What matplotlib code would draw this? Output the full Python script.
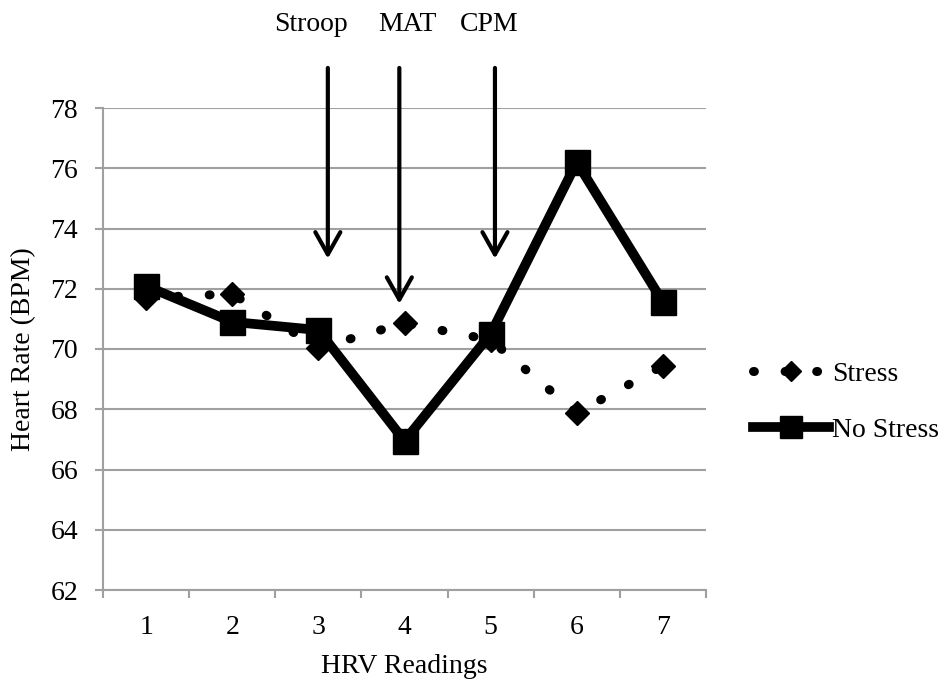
import matplotlib
matplotlib.use("Agg")
import matplotlib.pyplot as plt

# readings on the x axis
readings = [1, 2, 3, 4, 5, 6, 7]
stress = [71.7, 71.83, 70.03, 70.86, 70.3, 67.88, 69.44]
no_stress = [72.09, 70.9, 70.63, 66.95, 70.5, 76.2, 71.56]

# task markers: label, x position of arrow, arrow tip y
tasks = ["Stroop", "MAT", "CPM"]
task_x = [3.11, 3.94, 5.05]
task_tip = [73.0, 71.5, 73.0]
label_x = [2.91, 4.03, 4.98]

y_ticks = [62, 64, 66, 68, 70, 72, 74, 76, 78]

plt.rcParams['font.family'] = ['Liberation Serif', 'DejaVu Serif']
grey = '#a0a0a0'
fs = 20

fig = plt.figure(figsize=(9.41, 6.81), dpi=100)
ax = fig.add_axes([103 / 941, 1 - 590 / 681, (706 - 103) / 941, (590 - 108) / 681])

ax.set_ylim(62, 78)
ax.set_xlim(0.5, 7.5)
ax.set_yticks(y_ticks)
ax.set_xticks(readings)
ax.set_xticks([r - 0.5 for r in readings] + [7.5], minor=True)
ax.grid(axis='y', color=grey, lw=1.5)
ax.set_axisbelow(True)

for s in ['top', 'right']:
    ax.spines[s].set_visible(False)
for s in ['left', 'bottom']:
    ax.spines[s].set_color(grey)
    ax.spines[s].set_linewidth(1.5)

ax.tick_params(axis='y', length=6, width=1.5, color=grey, pad=12, labelsize=fs)
ax.tick_params(axis='x', which='major', length=0, pad=18, labelsize=fs)
ax.tick_params(axis='x', which='minor', length=6, width=1.5, color=grey)

ax.plot(readings, stress, color='black', lw=6.5, linestyle=(0, (0.1, 3.4)),
        dash_capstyle='round', marker='D', markersize=12.5, label='Stress', zorder=3)
ax.plot(readings, no_stress, color='black', lw=7, marker='s', markersize=18,
        label='No Stress', zorder=4)

for name, x, tip, lx in zip(tasks, task_x, task_tip, label_x):
    ax.annotate('', xy=(x, tip), xytext=(x, 79.33), annotation_clip=False,
                arrowprops=dict(arrowstyle='->,head_length=0.8,head_width=0.45',
                                mutation_scale=20, lw=3, color='black',
                                shrinkA=0, shrinkB=0), zorder=5)
    ax.text(lx, 80.78, name, ha='center', va='center', fontsize=fs, clip_on=False)

ax.set_ylabel('Heart Rate (BPM)', fontsize=fs, labelpad=10)
ax.set_xlabel('HRV Readings', fontsize=fs, labelpad=10)

leg = ax.legend(loc='center left', bbox_to_anchor=(753 / 941, 1 - 402 / 681),
                bbox_transform=fig.transFigure, frameon=False, fontsize=fs,
                borderaxespad=0, borderpad=0, markerscale=0.85,
                handlelength=2.75, handletextpad=0.1, labelspacing=1.1, numpoints=1)

fig.savefig('out.png', dpi=100)
